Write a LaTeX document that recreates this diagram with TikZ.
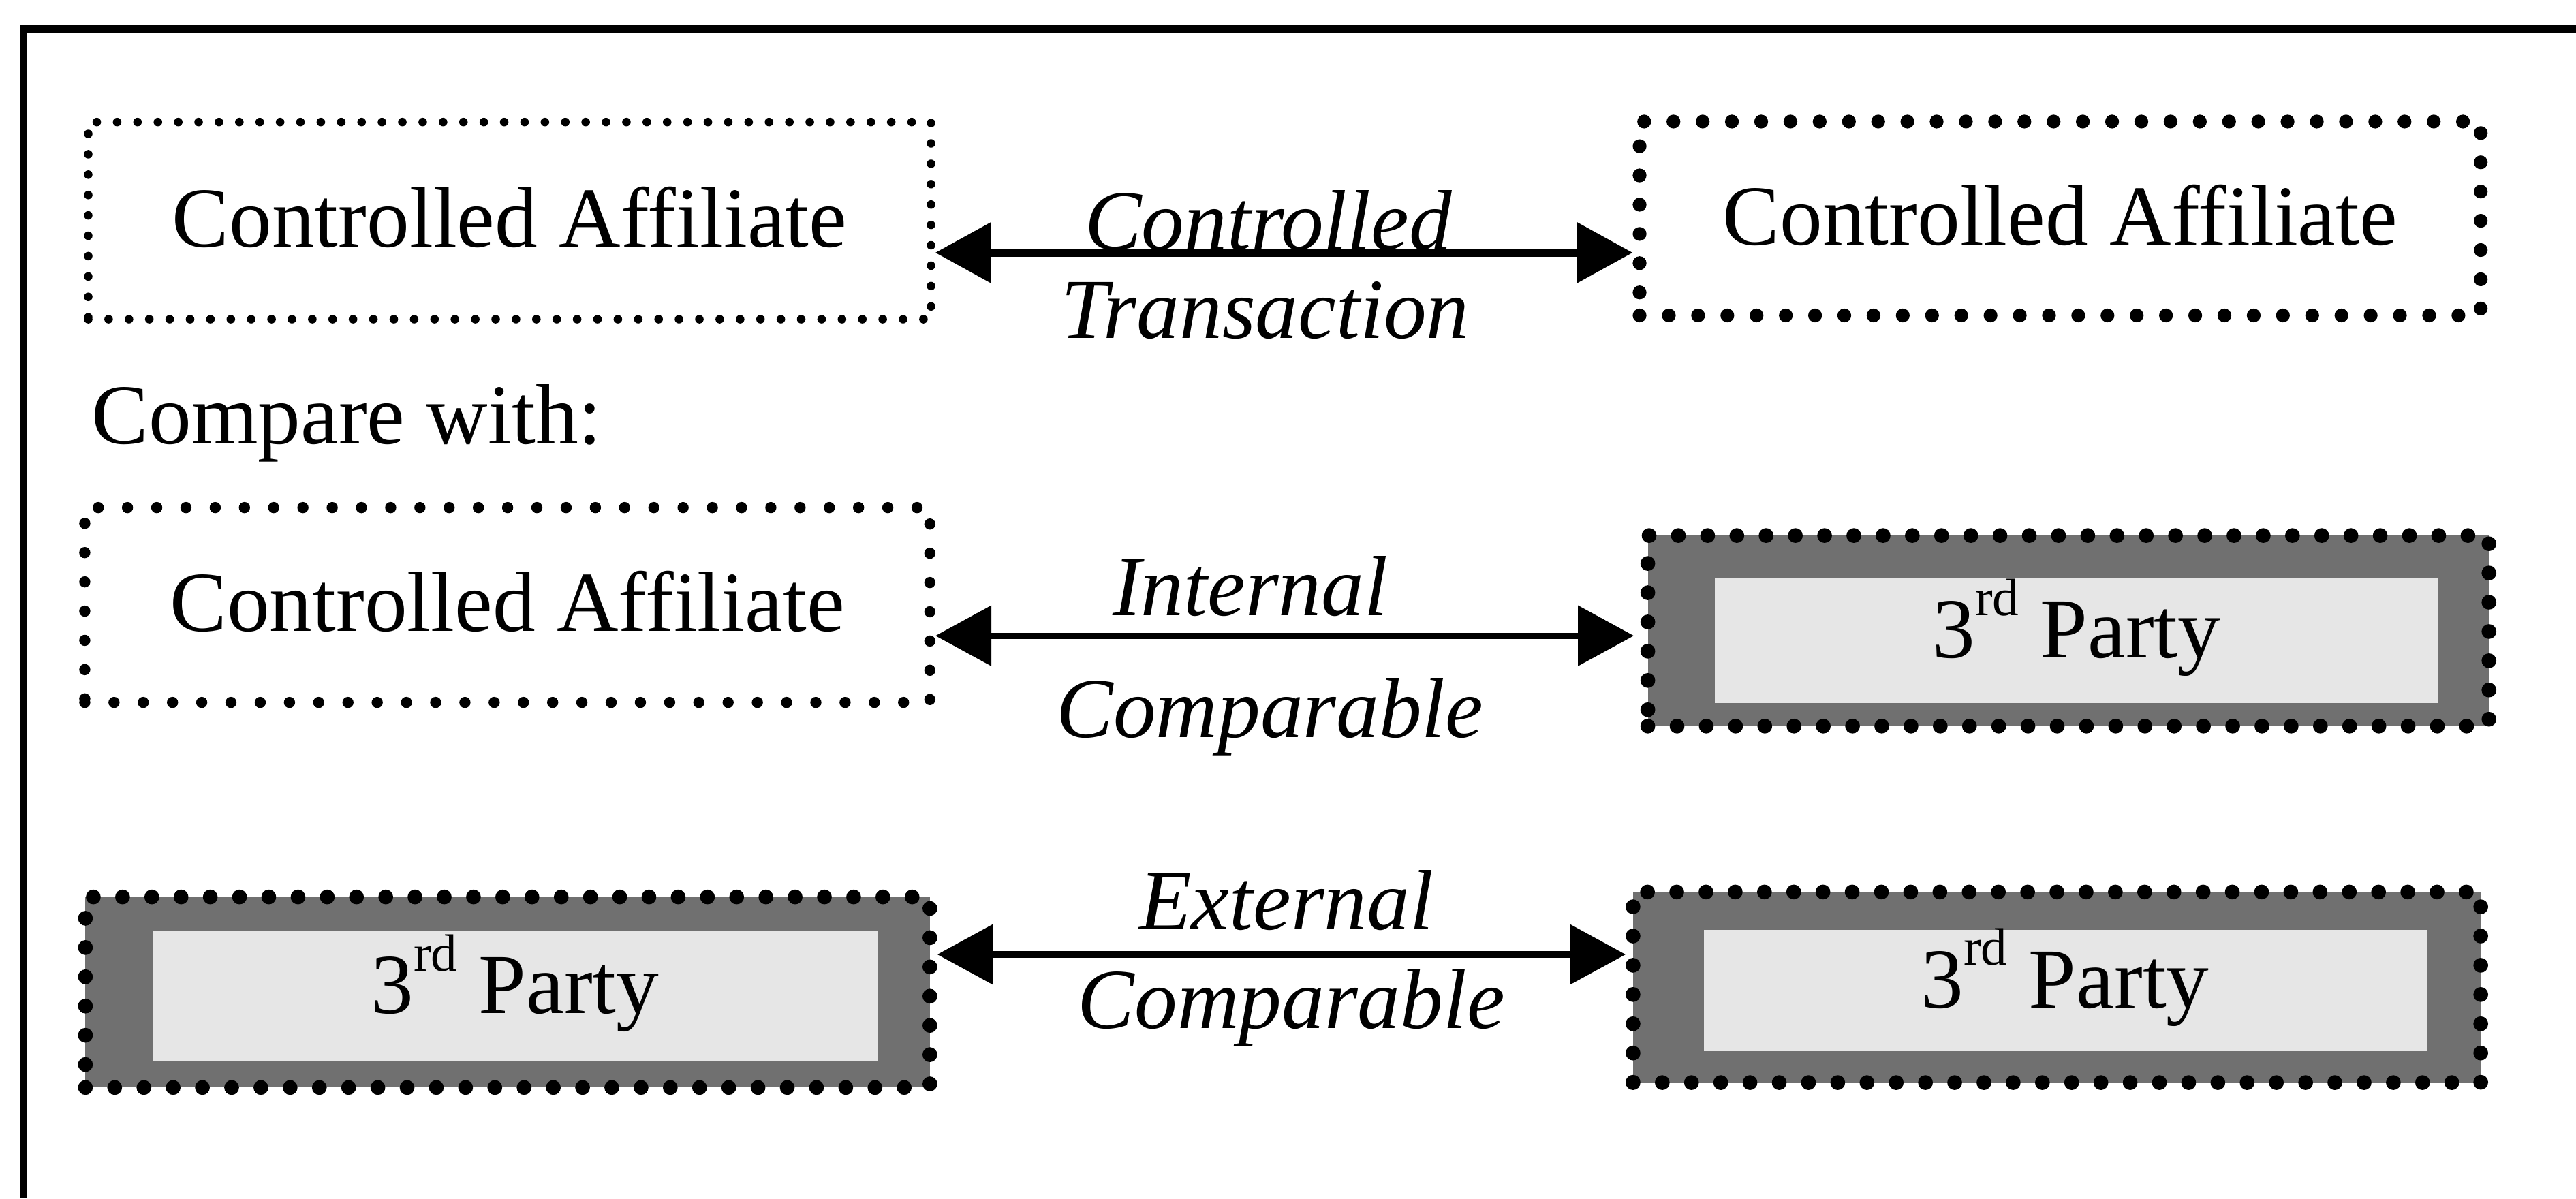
\documentclass[tikz,border=0pt]{standalone}
\usepackage{fontspec}
\setmainfont{Liberation Serif}
\usetikzlibrary{arrows.meta}
\definecolor{bandgray}{HTML}{707070}
\definecolor{innergray}{HTML}{E6E6E6}
\newcommand\rdsup{\raisebox{13pt}{\fontsize{16pt}{16pt}\selectfont rd}}
\begin{document}
\begin{tikzpicture}[x=0.5pt,y=-0.5pt,
  big/.style={font=\fontsize{26pt}{31pt}\selectfont},
  lab/.style={font=\fontsize{26pt}{31pt}\selectfont\itshape, anchor=base, inner sep=0pt},
  cabox/.style={big, inner sep=0pt, text height=16pt, text depth=0pt, draw=black, line cap=round},
  finedots/.style={cabox, line width=2.6pt, dash pattern=on 0pt off 6.2pt},
  coarsedots/.style={cabox, line width=4.2pt, dash pattern=on 0pt off 8.9pt},
  middots/.style={cabox, line width=3.4pt, dash pattern=on 0pt off 8.9pt},
  tpout/.style={inner sep=0pt, fill=bandgray, draw=black, line width=4.5pt, dash pattern=on 0pt off 8.9pt, line cap=round},
  tpin/.style={big, inner sep=0pt, fill=innergray, text height=16pt, text depth=5.5pt},
  conn/.style={{Triangle[length=17pt,width=18pt]}-{Triangle[length=17pt,width=18pt]}, line width=1.9pt},
]
\useasboundingbox (0,0) rectangle (1568,729.5);
% outer frame (only top and left edges visible)
\draw[line width=2.5pt] (12,17.3) -- (1568,17.3);
\draw[line width=2pt] (14.5,16) -- (14.5,729.5);

% row 1
\node[finedots, minimum width=256.5pt, minimum height=60pt] (a1) at (310.2,134.3) {Controlled Affiliate};
\node[coarsedots, minimum width=256pt, minimum height=59pt] (b1) at (1254,133) {Controlled Affiliate};
\draw[conn, line width=2.4pt] ([yshift=-9.75pt]a1.east) -- ([yshift=-9.75pt]a1.east -| b1.west);
\node[lab] (l1a) at (772,152) {Controlled};
\node[lab] (l1b) at (770,206) {Transaction};

\node[big, anchor=base west, inner sep=0pt] (cmp) at (55.5,270) {Compare with:};

% row 2
\node[middots, minimum width=257.2pt, minimum height=59.3pt] (a2) at (308.8,368.3) {Controlled Affiliate};
\node[tpout, minimum width=256pt, minimum height=58pt] (b2) at (1259,384) {};
\node[tpin, minimum width=220pt, minimum height=38pt] (b2i) at (1264,390) {3\rdsup{} Party};
\draw[conn, shorten >=2pt] ([yshift=-9.35pt]a2.east) -- ([yshift=-9.35pt]a2.east -| b2.west);
\node[lab] (l2a) at (761,374.5) {Internal};
\node[lab] (l2b) at (773,449) {Comparable};

% row 3
\node[tpout, minimum width=257pt, minimum height=58pt] (a3) at (309,604) {};
\node[tpin, minimum width=220.5pt, minimum height=39.5pt] (a3i) at (313.5,606.5) {3\rdsup{} Party};
\node[tpout, minimum width=258pt, minimum height=58pt] (b3) at (1252,601) {};
\node[tpin, minimum width=220pt, minimum height=37pt] (b3i) at (1257,603) {3\rdsup{} Party};
\draw[conn] ([yshift=11.5pt]a3.east) -- ([yshift=11.5pt]a3.east -| b3.west);
\node[lab] (l3a) at (783,566) {External};
\node[lab] (l3b) at (786,626) {Comparable};
\end{tikzpicture}
\end{document}
